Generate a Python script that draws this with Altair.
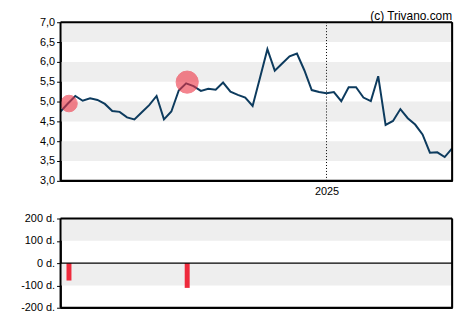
import altair as alt
import pandas as pd

# ---- data ----
start_date = "2024-04-24"
prices = [4.75, 4.95, 5.14, 5.02, 5.08, 5.04, 4.94, 4.76, 4.74, 4.60,
          4.55, 4.73, 4.91, 5.14, 4.55, 4.75, 5.28, 5.46, 5.39, 5.27,
          5.32, 5.30, 5.48, 5.25, 5.17, 5.10, 4.89, 5.60, 6.32, 5.78,
          5.96, 6.14, 6.21, 5.79, 5.29, 5.24, 5.21, 5.24, 5.01, 5.36,
          5.36, 5.10, 5.01, 5.64, 4.41, 4.51, 4.81, 4.58, 4.42, 4.17,
          3.71, 3.72, 3.60, 3.82]
dates = pd.date_range(start_date, periods=len(prices), freq="7D").strftime("%Y-%m-%d").tolist()

event_dates = ["2024-05-02", "2024-08-22"]
event_prices = [4.95, 5.49]
event_days = [-78, -111]

year_mark = ["2025-01-01"]

price_band_lo = [3.5, 4.5, 5.5, 6.5]
price_band_hi = [4.0, 5.0, 6.0, 7.0]
day_band_lo = [-100, 100]
day_band_hi = [0, 200]

price_ticks = [3.0, 3.5, 4.0, 4.5, 5.0, 5.5, 6.0, 6.5, 7.0]
day_ticks = [-200, -100, 0, 100, 200]

# ---- tables ----
price_df = pd.DataFrame({"date": dates, "price": prices})
event_df = pd.DataFrame({"date": event_dates, "price": event_prices,
                         "days": event_days, "mag": [abs(d) for d in event_days]})
year_df = pd.DataFrame({"date": year_mark})
pband_df = pd.DataFrame({"lo": price_band_lo, "hi": price_band_hi})
dband_df = pd.DataFrame({"lo": day_band_lo, "hi": day_band_hi})
zero_df = pd.DataFrame({"v": [0]})
edge_dates_df = pd.DataFrame({"date": [dates[0], dates[-1]]})
price_edges_df = pd.DataFrame({"v": [price_ticks[0], price_ticks[-1]]})
day_edges_df = pd.DataFrame({"v": [day_ticks[0], day_ticks[-1]]})

FONT = "Liberation Sans"
W = 395
H_TOP = 160
H_BOT = 90

def dt(s):
    y, m, d = [int(p) for p in s.split("-")]
    return alt.DateTime(year=y, month=m, date=d, utc=True)

x_scale = alt.Scale(type="utc", domain=[dt(dates[0]), dt(dates[-1])], nice=False, padding=0)
x_axis = alt.Axis(values=[dt(year_mark[0])], format="%Y", ticks=False, tickSize=0,
                  domain=True, domainColor="black", domainWidth=1.2,
                  grid=False, labelPadding=5, labelColor="black",
                  labelFont=FONT, labelFontSize=11, title=None)
x_axis_bot = alt.Axis(values=[dt(year_mark[0])], labels=False, ticks=False, tickSize=0,
                      domain=True, domainColor="black", domainWidth=1.2,
                      grid=False, title=None)

y_price = alt.Scale(domain=[3, 7], nice=False, zero=False, padding=0)
y_days = alt.Scale(domain=[-200, 200], nice=False, padding=0)

yaxis_common = dict(domain=True, domainColor="black", domainWidth=1.2, grid=False,
                    tickSize=4, tickColor="black",
                    labelColor="black", labelFont=FONT, labelFontSize=11,
                    labelPadding=2, minExtent=47, maxExtent=47, title=None,
                    labelOverlap=False, labelFlush=False)
price_axis = alt.Axis(values=price_ticks,
                      labelExpr="replace(format(datum.value, '.1f'), '.', ',')",
                      **yaxis_common)
days_axis = alt.Axis(values=day_ticks, labelExpr="datum.value + ' d.'", **yaxis_common)

BORDER = dict(color="black", strokeWidth=2)

# ---- top panel ----
bands = alt.Chart(pband_df).mark_rect(color="#eeeeee").encode(
    y=alt.Y("lo:Q", scale=y_price, axis=price_axis),
    y2="hi:Q",
)

year_rule = alt.Chart(year_df).mark_rule(color="black", strokeDash=[1, 2], strokeWidth=1).encode(
    x=alt.X("date:T", scale=x_scale, axis=x_axis)
)

line = alt.Chart(price_df).mark_line(color="#0d3b5e", strokeWidth=2).encode(
    x=alt.X("date:T", scale=x_scale, axis=x_axis),
    y=alt.Y("price:Q", scale=y_price, axis=price_axis),
)

circles = alt.Chart(event_df).mark_circle(color="#ee3344", opacity=0.6, stroke="#ee3344",
                                          strokeWidth=1).encode(
    x=alt.X("date:T", scale=x_scale, axis=x_axis),
    y=alt.Y("price:Q", scale=y_price, axis=price_axis),
    size=alt.Size("mag:Q", scale=alt.Scale(domain=[78, 111], range=[280, 500]), legend=None),
)

credit = alt.Chart(zero_df).mark_text(align="right", baseline="bottom", font=FONT,
                                      fontSize=12, color="black").encode(
    x=alt.value(W), y=alt.value(1), text=alt.value("(c) Trivano.com")
)

top_vedges = alt.Chart(edge_dates_df).mark_rule(**BORDER).encode(
    x=alt.X("date:T", scale=x_scale, axis=x_axis)
)
top_hedges = alt.Chart(price_edges_df).mark_rule(**BORDER).encode(
    y=alt.Y("v:Q", scale=y_price, axis=price_axis)
)

top = alt.layer(bands, year_rule, line, circles, credit, top_vedges, top_hedges).properties(
    width=W, height=H_TOP)

# ---- bottom panel ----
dbands = alt.Chart(dband_df).mark_rect(color="#eeeeee").encode(
    y=alt.Y("lo:Q", scale=y_days, axis=days_axis),
    y2="hi:Q",
)

zero_rule = alt.Chart(zero_df).mark_rule(color="black", strokeWidth=1.2).encode(
    y=alt.Y("v:Q", scale=y_days, axis=days_axis)
)

bars = alt.Chart(event_df).mark_bar(color="#ee2a3c", size=5).encode(
    x=alt.X("date:T", scale=x_scale, axis=x_axis_bot),
    y=alt.Y("days:Q", scale=y_days, axis=days_axis),
    y2=alt.datum(0),
)

bot_vedges = alt.Chart(edge_dates_df).mark_rule(**BORDER).encode(
    x=alt.X("date:T", scale=x_scale, axis=x_axis_bot)
)
bot_hedges = alt.Chart(day_edges_df).mark_rule(**BORDER).encode(
    y=alt.Y("v:Q", scale=y_days, axis=days_axis)
)

bottom = alt.layer(dbands, bars, zero_rule, bot_vedges, bot_hedges).properties(
    width=W, height=H_BOT)

chart = alt.vconcat(top, bottom, spacing=14).resolve_scale(x="shared").properties(
    padding={"left": 5, "top": 0, "right": 5, "bottom": 5}
).configure(background="white").configure_view(stroke="black", strokeWidth=1)

chart.save("out.html", embed_options={"renderer": "svg", "actions": False})
